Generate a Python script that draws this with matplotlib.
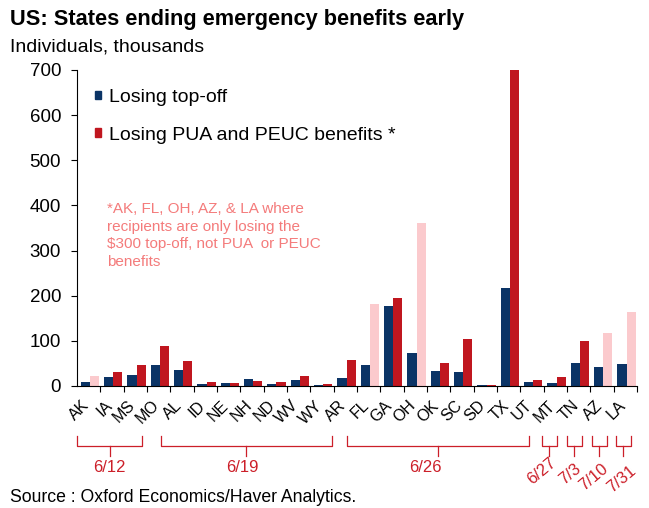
import matplotlib
matplotlib.use('Agg')
import matplotlib.pyplot as plt
import matplotlib.transforms as mtransforms
from matplotlib.patches import Patch
import numpy as np

plt.rcParams['font.family'] = ['Liberation Sans', 'DejaVu Sans']

# ---------- Data ----------
states = ["AK", "IA", "MS", "MO", "AL", "ID", "NE", "NH", "ND", "WV", "WY", "AR",
          "FL", "GA", "OH", "OK", "SC", "SD", "TX", "UT", "MT", "TN", "AZ", "LA"]
losing_topoff = [9, 20, 25, 46, 35, 5, 7, 16, 4, 14, 2, 18,
                 47, 178, 74, 34, 32, 3, 218, 9, 7, 50, 42, 48]
losing_pua_peuc = [22, 32, 46, 89, 56, 9, 7, 11, 9, 23, 5, 57,
                   182, 194, 362, 50, 105, 3, 700, 14, 21, 100, 118, 165]
topoff_only = ["AK", "FL", "OH", "AZ", "LA"]   # pale bars (only losing the $300 top-off)

date_groups = ["6/12", "6/19", "6/26", "6/27", "7/3", "7/10", "7/31"]
yticks = [0, 100, 200, 300, 400, 500, 600, 700]

# ---------- Colours ----------
NAVY = "#0b3466"
RED = "#c0161f"
PINK = "#fbcacd"
NOTE = "#f47b7b"
DATE_RED = "#cc1f29"

fig = plt.figure(figsize=(6.49, 5.08), dpi=100)
W, H = 649, 508
ax = fig.add_axes([77 / W, 1 - 386 / H, (637 - 77) / W, (386 - 70) / H])

x = np.arange(len(states))
bw = 0.39
red_cols = [PINK if s in topoff_only else RED for s in states]
ax.bar(x - 0.145, losing_topoff, width=bw, color=NAVY, label="Losing top-off")
ax.bar(x + 0.245, losing_pua_peuc, width=bw, color=red_cols,
       label="Losing PUA and PEUC benefits *")

ax.set_xlim(-0.5, len(states) - 0.5)
ax.set_ylim(0, 700)
ax.set_yticks(yticks)
ax.tick_params(axis='y', direction='out', length=4, width=0.8, pad=7.5,
               labelsize=13.5, colors='black')
for s in ["top", "right"]:
    ax.spines[s].set_visible(False)
ax.spines["left"].set_linewidth(0.8)
ax.spines["bottom"].set_linewidth(0.8)

# category labels at centres, boundary ticks as minor ticks
ax.set_xticks(x)
ax.set_xticklabels(states, rotation=45, ha='right', va='top', fontsize=11.5)
ax.tick_params(axis='x', which='major', length=0, pad=8.5)
ax.set_xticks(np.arange(0.5, len(states), 1.0), minor=True)
ax.tick_params(axis='x', which='minor', length=4, width=0.8, direction='out')
offset = mtransforms.ScaledTranslation(3 / 100, 0, fig.dpi_scale_trans)
for lab in ax.get_xticklabels():
    lab.set_transform(lab.get_transform() + offset)

# legend
handles = [Patch(color=NAVY, label="Losing top-off"),
           Patch(color=RED, label="Losing PUA and PEUC benefits *")]
ax.legend(handles=handles, loc='upper left', bbox_to_anchor=(95 / W, 1 - 89 / H),
          bbox_transform=fig.transFigure, frameon=False, fontsize=14,
          handlelength=0.31, handleheight=0.31, handletextpad=0.42,
          labelspacing=1.06, borderpad=0, borderaxespad=0)

# footnote in the plot
fig.text(107 / W, 1 - 202 / H,
         "*AK, FL, OH, AZ, & LA where\nrecipients are only losing the\n"
         "$300 top-off, not PUA  or PEUC\nbenefits",
         ha='left', va='top', fontsize=11, color=NOTE, linespacing=1.32)

# titles
fig.text(10 / W, 1 - 19 / H, "US: States ending emergency benefits early",
         fontsize=15.7, weight='bold', ha='left', va='center')
fig.text(10 / W, 1 - 47 / H, "Individuals, thousands", fontsize=14,
         ha='left', va='center')
fig.text(10 / W, 1 - 498 / H, "Source : Oxford Economics/Haver Analytics.",
         fontsize=12.7, ha='left', va='center')

# date brackets below the axis (x in data units, y in figure pixels)
tr = mtransforms.blended_transform_factory(ax.transData, fig.transFigure)
spans = [(-0.51, 2.30), (3.09, 10.42), (11.06, 18.89),
         (19.42, 20.06), (20.49, 21.13), (21.57, 22.21), (22.59, 23.23)]
label_pos = [(0.90, 468, 0), (6.57, 468, 0), (14.42, 468, 0),
             (19.42, 471, 40), (20.63, 474, 40), (21.66, 477, 40), (22.86, 479, 40)]
y_top, y_mid, y_tip = 1 - 435.5 / H, 1 - 445.5 / H, 1 - 455.5 / H
for (a, b), txt, (lx, ly, rot) in zip(spans, date_groups, label_pos):
    c = (a + b) / 2
    fig.lines.append(plt.Line2D([a, a, b, b], [y_top, y_mid, y_mid, y_top],
                                transform=tr, color=DATE_RED, lw=0.9))
    fig.lines.append(plt.Line2D([c, c], [y_mid, y_tip], transform=tr,
                                color=DATE_RED, lw=0.9))
    fig.text(lx, 1 - ly / H, txt, transform=tr, ha='center', va='center',
             rotation=rot, fontsize=12, color=DATE_RED)

fig.savefig("out.png", dpi=100)
